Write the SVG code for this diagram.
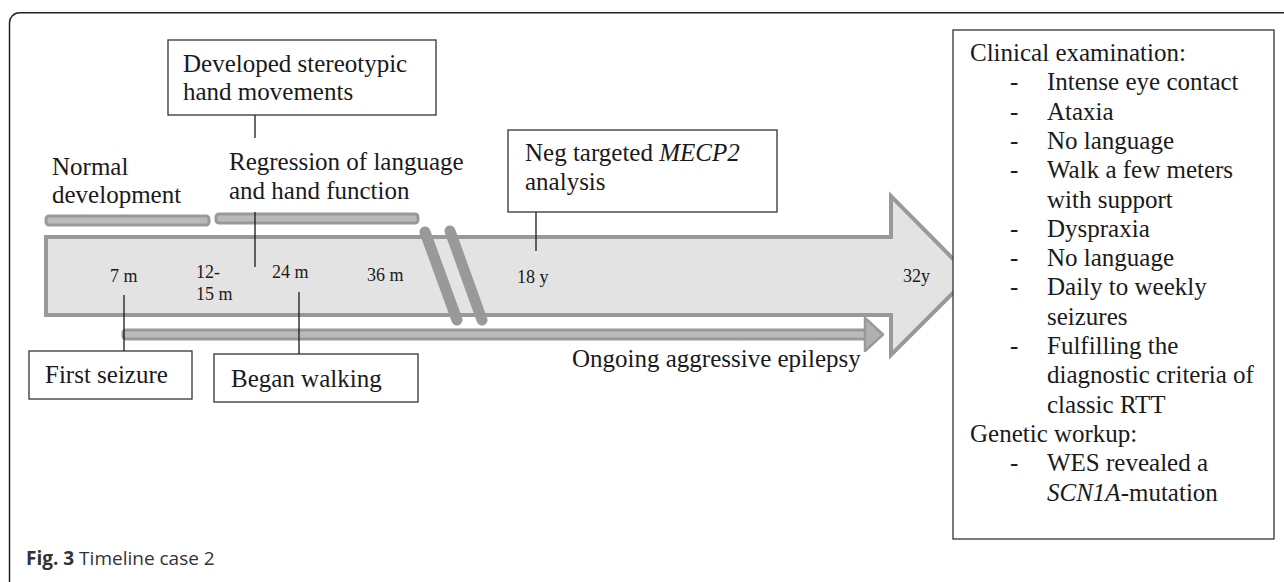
<svg xmlns="http://www.w3.org/2000/svg" width="1284" height="582" viewBox="0 0 1284 582">
<style>
.t{font-family:"Liberation Serif","Times New Roman",serif;font-size:25px;fill:#1a1a1a}
.s{font-family:"Liberation Serif","Times New Roman",serif;font-size:18px;fill:#1a1a1a}
.box{fill:#fff;stroke:#333;stroke-width:1.3}
.bar{fill:#bababa;stroke:#999;stroke-width:3}
.con{stroke:#1a1a1a;stroke-width:1.3;fill:none}
.cap{font-family:"Open Sans","Noto Sans",sans-serif;font-size:19px;fill:#333}
</style>
<rect width="1284" height="582" fill="#fff"/>
<path d="M9.5 582 V23 A10 10 0 0 1 19.5 12.8 H1284" fill="none" stroke="#222" stroke-width="1.5"/>

<g id="timeline">
<polygon points="46,237 891,237 891,196 970,276 891,355 891,315 46,315" fill="#e3e3e3" stroke="#999" stroke-width="4"/>
<line x1="425" y1="232" x2="457" y2="320" stroke="#999" stroke-width="11" stroke-linecap="round"/>
<line x1="450" y1="231" x2="482" y2="320" stroke="#999" stroke-width="11" stroke-linecap="round"/>
<text class="s" x="110" y="282">7 m</text>
<text class="s" x="196" y="278">12-</text>
<text class="s" x="196" y="300">15 m</text>
<text class="s" x="272" y="278">24 m</text>
<text class="s" x="367" y="281">36 m</text>
<text class="s" x="517" y="283">18 y</text>
<text class="s" x="903" y="282">32y</text>
</g>

<g id="normal-development">
<rect class="bar" x="46" y="216" width="163" height="9" rx="3"/>
<text class="t" x="52" y="175">Normal</text>
<text class="t" x="52" y="203">development</text>
</g>

<g id="regression">
<rect class="bar" x="216" y="214" width="202" height="9" rx="3"/>
<text class="t" x="229" y="170">Regression of language</text>
<text class="t" x="229" y="199">and hand function</text>
</g>

<g id="epilepsy">
<rect class="bar" x="123" y="330" width="744" height="9" rx="3"/>
<polygon points="865,318 883,334.5 865,351" fill="#b0b0b0" stroke="#999" stroke-width="2.5" stroke-linejoin="round"/>
<text class="t" x="572" y="367">Ongoing aggressive epilepsy</text>
</g>

<g id="stereotypic">
<rect class="box" x="168" y="40" width="268" height="75"/>
<text class="t" x="183" y="72">Developed stereotypic</text>
<text class="t" x="183" y="100">hand movements</text>
</g>

<g id="mecp2">
<rect class="box" x="508" y="130" width="269" height="82"/>
<text class="t" x="525" y="161">Neg targeted <tspan font-style="italic">MECP2</tspan></text>
<text class="t" x="525" y="190">analysis</text>
</g>

<g id="first-seizure">
<rect class="box" x="29" y="351" width="163" height="48"/>
<text class="t" x="45" y="383">First seizure</text>
</g>

<g id="began-walking">
<rect class="box" x="214" y="354" width="204" height="48"/>
<text class="t" x="231" y="387">Began walking</text>
</g>

<g id="clinical">
<rect class="box" x="953" y="30" width="321" height="509"/>
<text class="t" x="970" y="61">Clinical examination:</text>
<g class="t">
<text x="1010" y="90.3">-</text><text x="1047" y="90.3">Intense eye contact</text>
<text x="1010" y="119.6">-</text><text x="1047" y="119.6">Ataxia</text>
<text x="1010" y="148.9">-</text><text x="1047" y="148.9">No language</text>
<text x="1010" y="178.2">-</text><text x="1047" y="178.2">Walk a few meters</text>
<text x="1047" y="207.5">with support</text>
<text x="1010" y="236.8">-</text><text x="1047" y="236.8">Dyspraxia</text>
<text x="1010" y="266.1">-</text><text x="1047" y="266.1">No language</text>
<text x="1010" y="295.4">-</text><text x="1047" y="295.4">Daily to weekly</text>
<text x="1047" y="324.7">seizures</text>
<text x="1010" y="354">-</text><text x="1047" y="354">Fulfilling the</text>
<text x="1047" y="383.3">diagnostic criteria of</text>
<text x="1047" y="412.6">classic RTT</text>
</g>
<text class="t" x="970" y="441.9">Genetic workup:</text>
<g class="t">
<text x="1010" y="471.2">-</text><text x="1047" y="471.2">WES revealed a</text>
<text x="1047" y="500.5"><tspan font-style="italic">SCN1A</tspan>-mutation</text>
</g>
</g>

<g id="connectors">
<line class="con" x1="255" y1="115" x2="255" y2="138"/>
<line class="con" x1="255" y1="212" x2="255" y2="267"/>
<line class="con" x1="536" y1="212" x2="536" y2="251"/>
<line class="con" x1="124" y1="295" x2="124" y2="351"/>
<line class="con" x1="299" y1="292" x2="299" y2="354"/>
</g>

<text class="cap" x="26" y="565"><tspan font-weight="bold">Fig. 3</tspan> Timeline case 2</text>
</svg>
